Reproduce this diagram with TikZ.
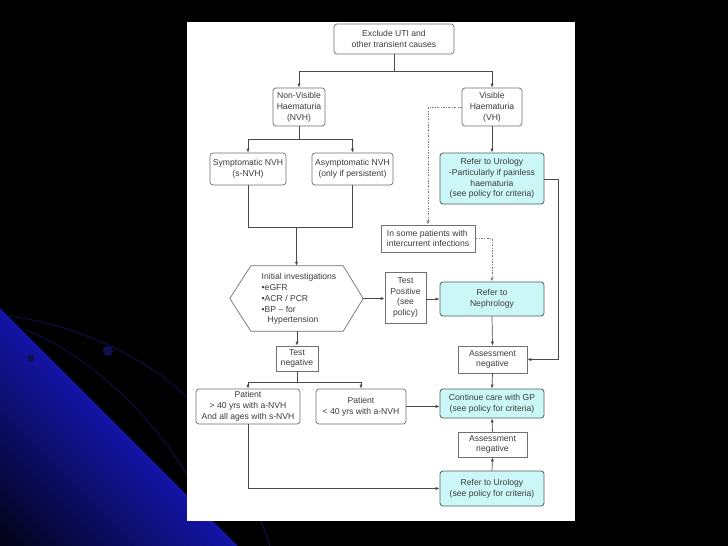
\documentclass[tikz,border=0pt]{standalone}
\usepackage{fontspec}
\setmainfont{Liberation Sans}
\usetikzlibrary{arrows.meta}
\definecolor{txt}{HTML}{3C3C3C}
\definecolor{bord}{HTML}{707070}
\definecolor{lin}{HTML}{4A4A4A}
\definecolor{cyanf}{HTML}{CCF7F7}
\definecolor{cbord}{HTML}{4F5F5F}
\definecolor{bluebg}{RGB}{20,20,165}
\definecolor{arcblue}{RGB}{15,15,80}
\newcommand{\fsz}{\fontsize{8.6}{10.8}\selectfont}
\tikzset{
  box/.style={draw=bord, line width=0.7pt, fill=white, text=txt, align=center, inner sep=0pt, font=\fsz},
  rbox/.style={box, rounded corners=3pt},
  cbox/.style={rbox, fill=cyanf, draw=cbord, line width=0.8pt},
  sz/.style 2 args={minimum width=#1, minimum height=#2},
  conn/.style={draw=lin, line width=0.7pt},
  arr/.style={conn, -{Latex[length=4pt,width=3.2pt]}},
  dotl/.style={draw=gray, line width=0.7pt, dash pattern=on 2pt off 1.5pt on 0.6pt off 1.5pt},
  darr/.style={dotl, -{Latex[length=4pt,width=3.2pt]}}
}
\begin{document}
\begin{tikzpicture}[x=1pt,y=-1pt]
\useasboundingbox (0,0) rectangle (728,546);
% background
\fill[black] (0,0) rectangle (728,546);
\foreach \i in {0,...,29}{
  \pgfmathsetmacro\da{\i*238/30}
  \pgfmathsetmacro\db{(\i+1)*238/30+0.6}
  \pgfmathtruncatemacro\p{100-\i*85/29}
  \fill[bluebg!\p!black] (0,{308+\da}) -- ({238-\da},546) -- ({238-\db},546) -- (0,{308+\db}) -- cycle;
}
\draw[arcblue, line width=0.9pt] (8,316) .. controls (80,325) and (150,360) .. (190,400);
\draw[arcblue, line width=0.9pt] (25,330) .. controls (80,350) and (150,410) .. (190,480);
\fill[arcblue] (108,351) circle (5);
\fill[arcblue] (31,358) circle (3.5);
\draw[arcblue, line width=1pt] (261,521) -- (270,546);
% panel
\fill[white] (187,22) rectangle (575,521);

% nodes
\node[rbox, sz={120pt}{30pt}] (excl) at (394,39) {Exclude UTI and\\other transient causes};
\node[rbox, sz={52pt}{38pt}] (nvh) at (299,107) {Non-Visible\\Haematuria\\(NVH)};
\node[rbox, sz={60pt}{38pt}] (vh) at (492,107) {Visible\\Haematuria\\(VH)};
\node[rbox, sz={76pt}{32pt}] (sym) at (248,169) {Symptomatic NVH\\(s-NVH)};
\node[rbox, sz={81pt}{32pt}] (asym) at (352.5,169) {Asymptomatic NVH\\(only if persistent)};
\node[cbox, sz={104pt}{51pt}] (uro1) at (492,178.5) {Refer to Urology\\-Particularly if painless\\haematuria\\(see policy for criteria)};
\node[box, sz={94pt}{27pt}, align=left] (some) at (428,238.5) {In some patients with\\intercurrent infections};
\node[sz={133pt}{65pt}, inner sep=0pt] (hex) at (296.5,298.5) {};
\draw[draw=bord, line width=0.7pt, fill=white] (hex.west) -- ([xshift=21pt]hex.north west) -- ([xshift=-20pt]hex.north east) -- (hex.east) -- ([xshift=-20pt]hex.south east) -- ([xshift=21pt]hex.south west) -- cycle;
\node[text=txt, font=\fsz, align=left, inner sep=0pt] (hext) at (299,299) {Initial investigations\\\textbullet eGFR\\\textbullet ACR / PCR\\\textbullet BP -- for\\\hspace*{6pt}Hypertension};
\node[box, sz={41pt}{51pt}] (tpos) at (405.5,297.5) {Test\\Positive\\(see\\policy)};
\node[cbox, sz={104pt}{34pt}] (neph) at (492,299) {Refer to\\Nephrology};
\node[box, sz={42pt}{25pt}] (tneg) at (297,358.5) {Test\\negative};
\node[box, sz={69pt}{27pt}] (ass1) at (492.5,359.5) {Assessment\\negative};
\node[rbox, sz={104pt}{35pt}] (p40) at (248,406.5) {Patient\\> 40 yrs with a-NVH\\And all ages with s-NVH};
\node[rbox, sz={90pt}{35pt}] (p40b) at (361,406.5) {Patient\\< 40 yrs with a-NVH};
\node[cbox, sz={104pt}{29pt}] (cont) at (492,403.5) {Continue care with GP\\(see policy for criteria)};
\node[box, sz={69pt}{25pt}] (ass2) at (492.5,444.5) {Assessment\\negative};
\node[cbox, sz={104pt}{35pt}] (uro2) at (492,488.5) {Refer to Urology\\(see policy for criteria)};

% junction coordinates
\coordinate (j1) at (394,71);
\coordinate (j2) at (299,139);
\coordinate (j3) at (296.5,227);
\coordinate (j4) at (297,382);
\coordinate (d1) at (428,107);
\coordinate (d2) at (492,238.5);
\coordinate (r1) at (558,179);
\coordinate (b1) at (248,488.5);

% connectors
\draw[conn] (excl.south) -- (j1);
\draw[arr] (j1) -| (nvh.north);
\draw[arr] (j1) -| (vh.north);
\draw[conn] (nvh.south) -- (j2);
\draw[arr] (j2) -| (sym.north);
\draw[arr] (j2) -| (asym.north);
\draw[conn] (sym.south) |- (j3);
\draw[conn] (asym.south) |- (j3);
\draw[arr] (j3) -- (hex.north);
\draw[arr] (vh.south) -- (uro1.north);
\draw[dotl] (vh.west) -- (d1);
\draw[darr] (d1) -- (some.north);
\draw[dotl] (some.east) -- (d2);
\draw[darr] (d2) -- (neph.north);
\draw[conn] (uro1.east |- r1) -- (r1);
\draw[arr] (r1) |- (ass1.east);
\draw[arr] (hex.east) -- (hex.east -| tpos.west);
\draw[arr] (tpos.east |- neph.west) -- (neph.west);
\draw[arr] (neph.south) -- (ass1.north);
\draw[arr] (hex.south -| tneg.north) -- (tneg.north);
\draw[conn] (tneg.south) -- (j4);
\draw[arr] (j4) -| (p40.north);
\draw[arr] (j4) -| (p40b.north);
\draw[arr] (p40b.east) -- (p40b.east -| cont.west);
\draw[arr] (ass1.south) -- (cont.north);
\draw[arr] (ass2.north) -- (cont.south);
\draw[arr] (uro2.north) -- (ass2.south);
\draw[conn] (p40.south) -- (b1);
\draw[arr] (b1) -- (uro2.west);
\end{tikzpicture}
\end{document}
